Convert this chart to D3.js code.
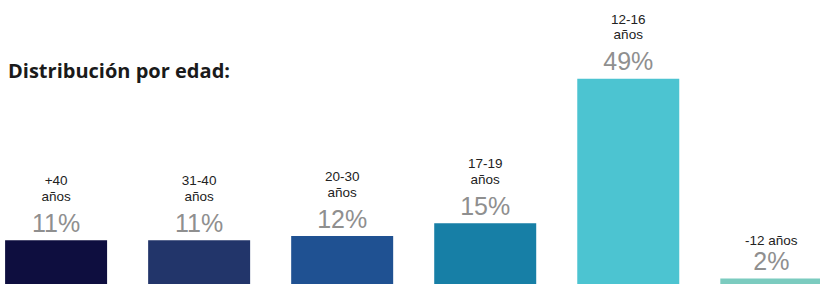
<!DOCTYPE html>
<html><head><meta charset="utf-8">
<script src="https://cdn.jsdelivr.net/npm/d3@7"></script>
<style>html,body{margin:0;padding:0;background:#fff;}svg{display:block;}</style>
</head><body>
<svg id="chart" width="820" height="284"></svg>
<script>
const categories = ["+40 años", "31-40 años", "20-30 años", "17-19 años", "12-16 años", "-12 años"];
const labelLines = [["+40","años"],["31-40","años"],["20-30","años"],["17-19","años"],["12-16","años"],["-12 años"]];
const values = [11, 11, 12, 15, 49, 2];
const colors = ["#0e0e3f", "#22356a", "#1f5192", "#177fa6", "#4cc4d1", "#7bcbbf"];
const title = "Distribución por edad:";

const svg = d3.select("#chart");
const x = d3.scaleBand().domain(categories).range([5.1, 822.3]).paddingInner(0.287).paddingOuter(0);
const y = d3.scaleLinear().domain([0, 49]).range([287, 78.75]);

svg.append("text").attr("x", 8).attr("y", 78)
  .attr("font-family", "'Open Sans', sans-serif").attr("font-weight", 700)
  .attr("font-size", 19).attr("fill", "#1a1a1a")
  .attr("textLength", 222).attr("lengthAdjust", "spacingAndGlyphs")
  .text(title);

const g = svg.selectAll("g.bar").data(categories).join("g").attr("class", "bar");
g.append("rect")
  .attr("x", d => x(d)).attr("width", x.bandwidth())
  .attr("y", (d,i) => y(values[i])).attr("height", (d,i) => y(0) - y(values[i]))
  .attr("fill", (d,i) => colors[i]);

g.append("text")
  .attr("x", d => x(d) + x.bandwidth()/2)
  .attr("y", (d,i) => y(values[i]) - 8.5)
  .attr("text-anchor", "middle")
  .attr("font-family", "'Liberation Sans', Arial, sans-serif").attr("font-weight", 400)
  .attr("font-size", 25).attr("fill", "#8f8f8f")
  .text((d,i) => values[i] + "%");

g.each(function(d,i){
  const lines = labelLines[i];
  const base = y(values[i]) - 8.5;
  const sel = d3.select(this);
  lines.forEach((ln, j) => {
    const off = lines.length === 1 ? 25.5 : (j === 0 ? 46.5 : 31);
    sel.append("text")
      .attr("x", x(d) + x.bandwidth()/2)
      .attr("y", base - off)
      .attr("text-anchor", "middle")
      .attr("font-family", "'Liberation Sans', Arial, sans-serif")
      .attr("font-size", 13.5).attr("fill", "#222")
      .text(ln);
  });
});
</script>
</body></html>
